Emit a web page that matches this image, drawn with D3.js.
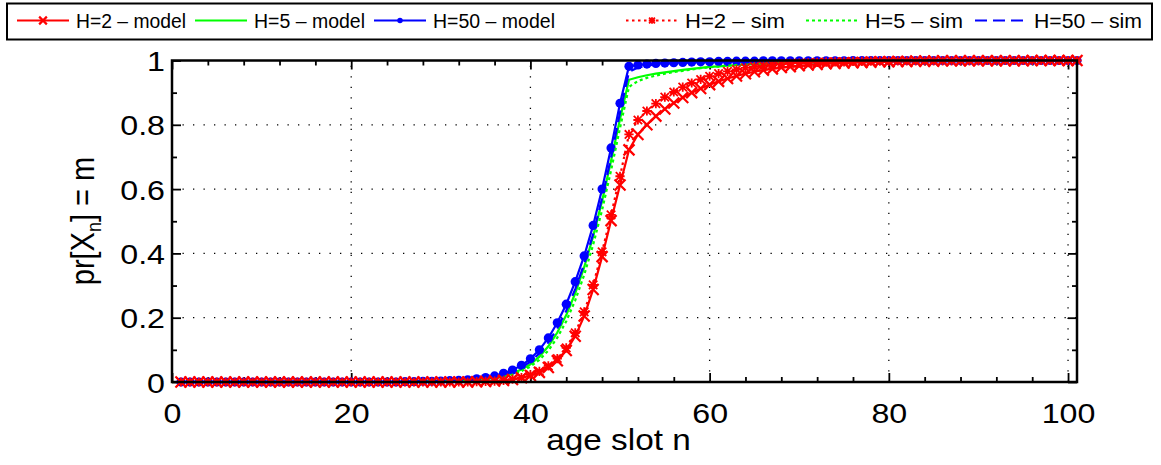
<!DOCTYPE html>
<html><head><meta charset="utf-8">
<script src="https://cdn.jsdelivr.net/npm/d3@7"></script>
<style>
body{margin:0;background:#fff}
text{font-family:"Liberation Sans",Arial,Helvetica,sans-serif;fill:#000}
</style>
</head><body>
<svg id="chart" width="1161" height="465"></svg>
<script>
// ---------------- data ----------------
const ageSlots = d3.range(1, 102); // n = 1..101

const h2Model = [
0,0,0,0,0,0,0,0,0,0,
0,0,0,0,0,0,0,0,0,0,
0,0,0,0,0,0,0,0,0,0,
0,0,0,0.001,0.002,0.003,0.005,0.008,0.013,0.020,
0.030,0.045,0.066,0.098,0.142,0.205,0.288,0.390,0.502,0.613,
0.722,0.770,0.800,0.827,0.849,0.868,0.885,0.900,0.913,0.925,
0.935,0.944,0.952,0.959,0.965,0.970,0.974,0.978,0.981,0.984,
0.986,0.988,0.990,0.991,0.992,0.993,0.994,0.995,0.996,0.996,
0.997,0.997,0.998,0.998,0.998,0.999,0.999,0.999,0.999,0.999,
0.999,0.999,0.999,0.999,0.999,1,1,1,1,1,
1];

const h5Model = [
0,0,0,0,0,0,0,0,0,0,
0,0,0,0,0,0,0,0,0,0,
0,0,0,0,0,0,0.001,0.001,0.001,0.002,
0.002,0.003,0.004,0.006,0.009,0.013,0.019,0.027,0.039,0.055,
0.079,0.111,0.154,0.208,0.276,0.357,0.453,0.563,0.688,0.818,
0.940,0.948,0.954,0.959,0.963,0.967,0.971,0.974,0.977,0.980,
0.982,0.984,0.986,0.988,0.989,0.990,0.991,0.992,0.993,0.994,
0.995,0.995,0.996,0.996,0.997,0.997,0.997,0.998,0.998,0.998,
0.998,0.998,0.999,0.999,0.999,0.999,0.999,0.999,0.999,0.999,
1,1,1,1,1,1,1,1,1,1,
1];

const h50Model = [
0,0,0,0,0,0,0,0,0,0,
0,0,0,0,0,0,0,0,0,0,
0,0,0,0,0,0.001,0.001,0.002,0.002,0.003,
0.004,0.005,0.007,0.010,0.014,0.019,0.027,0.037,0.052,0.072,
0.100,0.137,0.184,0.242,0.312,0.392,0.487,0.600,0.728,0.867,
0.982,0.986,0.989,0.991,0.992,0.993,0.994,0.995,0.996,0.996,
0.997,0.997,0.998,0.998,0.998,0.999,0.999,0.999,0.999,0.999,
0.999,0.999,0.999,0.999,0.999,1,1,1,1,1,
1,1,1,1,1,1,1,1,1,1,
1,1,1,1,1,1,1,1,1,1,
1];

const h2Sim = [
0,0,0,0,0,0,0,0,0,0,
0,0,0,0,0,0,0,0,0,0,
0,0,0,0,0,0,0,0,0,0,
0,0,0,0.001,0.002,0.003,0.005,0.009,0.014,0.022,
0.033,0.050,0.073,0.106,0.153,0.218,0.302,0.405,0.520,0.640,
0.770,0.815,0.843,0.866,0.886,0.902,0.917,0.930,0.941,0.951,
0.959,0.966,0.972,0.977,0.981,0.984,0.987,0.989,0.991,0.992,
0.993,0.994,0.995,0.996,0.996,0.997,0.997,0.998,0.998,0.998,
0.999,0.999,0.999,0.999,0.999,0.999,0.999,0.999,0.999,0.999,
1,1,1,1,1,1,1,1,1,1,
1];

const h5Sim = [
0,0,0,0,0,0,0,0,0,0,
0,0,0,0,0,0,0,0,0,0,
0,0,0,0,0,0,0,0.001,0.001,0.001,
0.001,0.002,0.003,0.005,0.008,0.011,0.016,0.023,0.034,0.048,
0.069,0.098,0.138,0.189,0.254,0.333,0.427,0.535,0.658,0.790,
0.918,0.936,0.946,0.953,0.959,0.964,0.968,0.972,0.976,0.979,
0.981,0.984,0.986,0.987,0.989,0.990,0.991,0.992,0.993,0.994,
0.994,0.995,0.996,0.996,0.997,0.997,0.997,0.998,0.998,0.998,
0.998,0.998,0.999,0.999,0.999,0.999,0.999,0.999,0.999,0.999,
1,1,1,1,1,1,1,1,1,1,
1];

const h50Sim = [
0,0,0,0,0,0,0,0,0,0,
0,0,0,0,0,0,0,0,0,0,
0,0,0,0,0,0,0.001,0.001,0.002,0.002,
0.002,0.003,0.005,0.008,0.011,0.016,0.023,0.032,0.045,0.063,
0.089,0.123,0.167,0.222,0.289,0.367,0.460,0.572,0.698,0.838,
0.965,0.978,0.984,0.988,0.990,0.992,0.993,0.994,0.995,0.996,
0.996,0.997,0.997,0.998,0.998,0.999,0.999,0.999,0.999,0.999,
0.999,0.999,0.999,0.999,0.999,1,1,1,1,1,
1,1,1,1,1,1,1,1,1,1,
1,1,1,1,1,1,1,1,1,1,
1];

const xTicks = [0, 20, 40, 60, 80, 100];
const yTicks = [0, 0.2, 0.4, 0.6, 0.8, 1];
const yTickLabels = ["0", "0.2", "0.4", "0.6", "0.8", "1"];
const xLabel = "age slot n";
const legendLabels = ["H=2 \u2013 model", "H=5 \u2013 model", "H=50 \u2013 model",
                      "H=2 \u2013 sim", "H=5 \u2013 sim", "H=50 \u2013 sim"];

// ---------------- series styling ----------------
const series = [
  {name: legendLabels[0], values: h2Model, color: "#ff0000", dash: null,  marker: "x"},
  {name: legendLabels[1], values: h5Model, color: "#00ff00", dash: null,  marker: null},
  {name: legendLabels[2], values: h50Model, color: "#0000ff", dash: null, marker: "dot"},
  {name: legendLabels[3], values: h2Sim, color: "#ff0000", dash: "2.5,3.5", marker: "star"},
  {name: legendLabels[4], values: h5Sim, color: "#00ff00", dash: "3,3", marker: null},
  {name: legendLabels[5], values: h50Sim, color: "#0000ff", dash: "12,6", marker: null}
];

// ---------------- layout ----------------
const svg = d3.select("#chart");
const L = 172, R = 1077, T = 60.5, B = 382;
const x = d3.scaleLinear().domain([0, 101]).range([L, R]);
const y = d3.scaleLinear().domain([0, 1]).range([B, T]);
const FS = 28, SX = 1.15;

// grid
const grid = svg.append("g");
xTicks.forEach(t => {
  if (t === 0) return;
  grid.append("line").attr("x1", x(t)).attr("x2", x(t)).attr("y1", B).attr("y2", T)
    .attr("stroke", "#000").attr("stroke-width", 1.3).attr("stroke-dasharray", "1.3,9.2");
});
yTicks.forEach(t => {
  if (t === 0 || t === 1) return;
  grid.append("line").attr("x1", L).attr("x2", R).attr("y1", y(t)).attr("y2", y(t))
    .attr("stroke", "#000").attr("stroke-width", 1.3).attr("stroke-dasharray", "1.3,9.2");
});

// ticks via d3 axes (inward)
const xMinor = d3.range(0, 101, 4).filter(v => !xTicks.includes(v));
const yMinor = d3.range(0.1, 1, 0.2);
function tickAxes(gen, transform) {
  const g = svg.append("g").attr("transform", transform).call(gen);
  g.select(".domain").remove();
  g.selectAll("text").remove();
  g.selectAll("line").attr("stroke", "#000").attr("stroke-width", 1.8);
  return g;
}
tickAxes(d3.axisBottom(x).tickValues(xTicks).tickSize(-9), `translate(0,${B})`);
tickAxes(d3.axisBottom(x).tickValues(xMinor).tickSize(-5), `translate(0,${B})`);
tickAxes(d3.axisTop(x).tickValues(xTicks).tickSize(-9), `translate(0,${T})`);
tickAxes(d3.axisTop(x).tickValues(xMinor).tickSize(-5), `translate(0,${T})`);
tickAxes(d3.axisLeft(y).tickValues(yTicks).tickSize(-9), `translate(${L},0)`);
tickAxes(d3.axisLeft(y).tickValues(yMinor).tickSize(-5), `translate(${L},0)`);
tickAxes(d3.axisRight(y).tickValues(yTicks).tickSize(-9), `translate(${R},0)`);
tickAxes(d3.axisRight(y).tickValues(yMinor).tickSize(-5), `translate(${R},0)`);

// tick labels
const xl = svg.append("g").attr("transform", `translate(0,${B})`)
  .call(d3.axisBottom(x).tickValues(xTicks).tickSize(0).tickPadding(0).tickFormat(d3.format("d")));
xl.select(".domain").remove();
xl.selectAll("text").attr("font-size", FS).attr("y", 0).attr("dy", 0)
  .attr("transform", `translate(0,40.5) scale(${SX},1)`)
  .style("font-family", '"Liberation Sans",Arial,sans-serif').attr("fill", "#000");

const yl = svg.append("g").attr("transform", `translate(${L},0)`)
  .call(d3.axisLeft(y).tickValues(yTicks).tickSize(0).tickPadding(0)
    .tickFormat((d, i) => yTickLabels[i]));
yl.select(".domain").remove();
yl.selectAll("text").attr("font-size", FS).attr("x", 0).attr("dy", "0.36em")
  .attr("transform", `translate(-7,0) scale(${SX},1)`)
  .style("font-family", '"Liberation Sans",Arial,sans-serif').attr("fill", "#000");

// axis labels
svg.append("text").attr("transform", `translate(${(L + R) / 2 - 6},450) scale(${SX},1)`)
  .attr("text-anchor", "middle").attr("font-size", 29).text(xLabel);
const ylab = svg.append("text").attr("transform", `translate(94,221) rotate(-90) scale(1,${SX})`)
  .attr("text-anchor", "middle").attr("font-size", 29);
ylab.append("tspan").text("pr[X");
ylab.append("tspan").attr("font-size", 18).attr("dy", 6).text("n");
ylab.append("tspan").attr("dy", -6).text("] = m");

// series lines
const line = d3.line().x((d, i) => x(ageSlots[i])).y(d => y(d));
const plot = svg.append("g");

function drawMarker(g, type, cx, cy, color, scale) {
  const s = scale || 1;
  if (type === "x") {
    const h = 5.5 * s;
    g.append("path").attr("d", `M${cx-h},${cy-h}L${cx+h},${cy+h}M${cx-h},${cy+h}L${cx+h},${cy-h}`)
      .attr("stroke", color).attr("stroke-width", 2.2).attr("fill", "none");
  } else if (type === "star") {
    const h = 4.2 * s, k = 4.6 * s;
    g.append("path").attr("d", `M${cx-h},${cy-h}L${cx+h},${cy+h}M${cx-h},${cy+h}L${cx+h},${cy-h}M${cx-k},${cy}L${cx+k},${cy}M${cx},${cy-k}L${cx},${cy+k}`)
      .attr("stroke", color).attr("stroke-width", 1.8).attr("fill", "none");
  } else if (type === "dot") {
    g.append("circle").attr("cx", cx).attr("cy", cy).attr("r", 4.6 * s).attr("fill", color);
  }
}

const drawOrder = [1, 2, 4, 5, 0, 3];
drawOrder.forEach(si => {
  const s = series[si];
  const g = plot.append("g");
  g.append("path").datum(s.values).attr("d", line).attr("fill", "none")
    .attr("stroke", s.color).attr("stroke-width", 2.2)
    .attr("stroke-dasharray", s.dash);
  if (s.marker) {
    s.values.forEach((v, i) => drawMarker(g, s.marker, x(ageSlots[i]), y(v), s.color));
  }
});

// axes box
svg.append("rect").attr("x", L).attr("y", T).attr("width", R - L).attr("height", B - T)
  .attr("fill", "none").attr("stroke", "#000").attr("stroke-width", 2.5);

// legend
const lg = svg.append("g");
lg.append("rect").attr("x", 7).attr("y", 3.5).attr("width", 1145).attr("height", 36)
  .attr("fill", "#fff").attr("stroke", "#000").attr("stroke-width", 2);
const legX = [17, 195, 374, 626, 806, 975];
const legW = [110, 111, 122, 100, 98, 108];
series.forEach((s, i) => {
  const x0 = legX[i], ly = 20.5;
  lg.append("line").attr("x1", x0).attr("x2", x0 + 52).attr("y1", ly).attr("y2", ly)
    .attr("stroke", s.color).attr("stroke-width", 2).attr("stroke-dasharray", s.dash);
  if (s.marker) drawMarker(lg, s.marker, x0 + 26, ly, s.color, s.marker === "dot" ? 0.6 : 0.7);
  lg.append("text").attr("x", x0 + 59).attr("y", 27.5).attr("font-size", 19.5)
    .attr("textLength", legW[i]).attr("lengthAdjust", "spacingAndGlyphs").text(s.name);
});
</script>
</body></html>
